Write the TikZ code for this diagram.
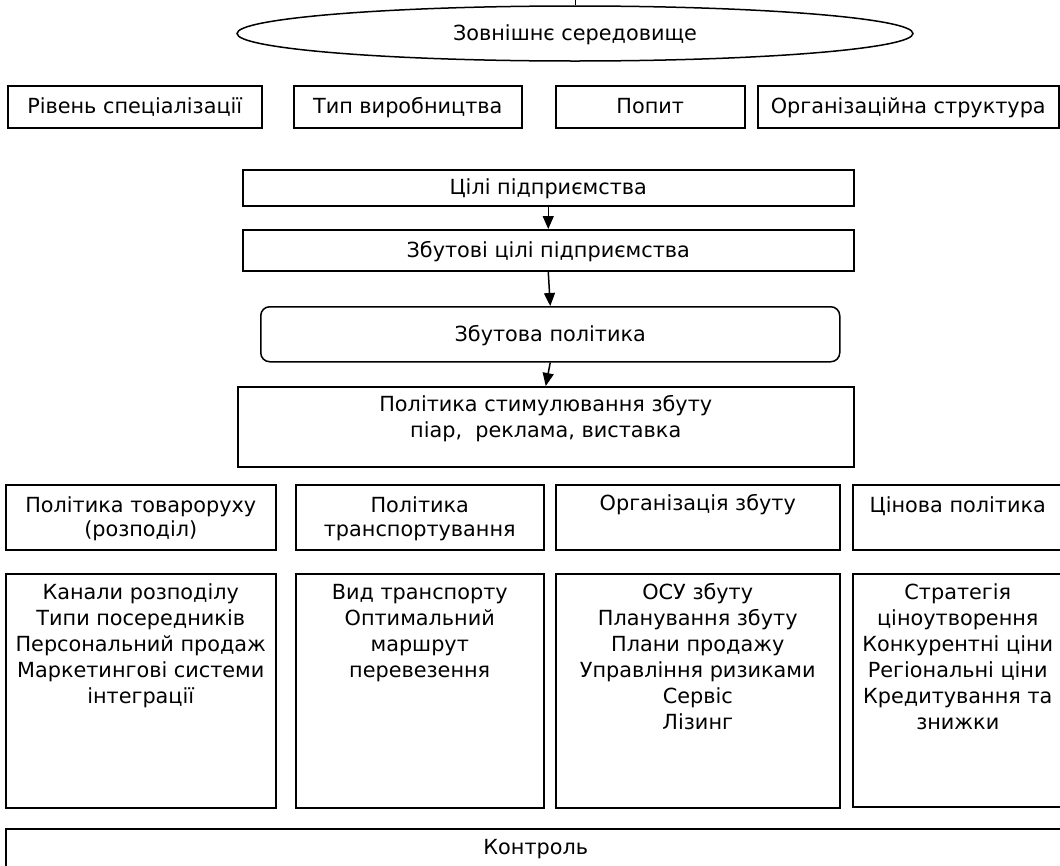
\documentclass[tikz,border=0pt]{standalone}
\usepackage{fontspec}
\setmainfont{DejaVu Sans}
\usetikzlibrary{shapes.geometric,arrows.meta,calc}
\newcommand\ftA{\fontsize{20.8}{26}\selectfont}
\newcommand\ftB{\fontsize{20.8}{24}\selectfont}
\begin{document}
\begin{tikzpicture}[x=1pt,y=-1pt,
  box/.style={draw, line width=1.5pt, rectangle, inner sep=0pt, anchor=north west, font=\ftA, text height=16pt, text depth=2pt},
  txt/.style={inner sep=0pt, align=center, anchor=north},
  arr/.style={line width=1.5pt, -{Triangle[length=13pt,width=11pt]}}]
\useasboundingbox (0,0) rectangle (1060,865);
\clip (0,0) rectangle (1060,865);
% external environment
\node[draw, ellipse, line width=1.5pt, minimum width=676, minimum height=55, inner sep=0pt, font=\ftA, text height=16pt, text depth=2pt] (env) at (575,33.5) {Зовнішнє середовище};
\draw[line width=1pt] (env.north) -- ++(0,-7);
% factors
\node[box, minimum width=254, minimum height=42] (r1) at (7,85) {Рівень спеціалізації};
\node[box, minimum width=228, minimum height=42] (r2) at (293,85) {Тип виробництва};
\node[box, minimum width=189, minimum height=42] (r3) at (555,85) {Попит};
\node[box, minimum width=301, minimum height=42] (r4) at (757,85) {Організаційна структура};
% central chain
\node[box, minimum width=611, minimum height=36] (c1) at (242,169) {Цілі підприємства};
\node[box, minimum width=611, minimum height=41] (c2) at (242,229) {Збутові цілі підприємства};
\node[box, rounded corners=9pt, minimum width=579, minimum height=55] (c3) at (260,306) {Збутова політика};
\node[box, minimum width=616, minimum height=80] (c4) at (237,386) {};
\node[txt, font=\ftA] (c4t) at ($(c4.north)+(0,6.8)$) {\strut Політика стимулювання збуту\\піар,\ \ реклама, виставка};
\draw[arr] (c1.south) -- (c2.north);
\draw[arr] (c2.south) -- (c3.north);
\draw[arr] (c3.south) -- (c4.north);
% policy headers
\node[box, minimum width=270, minimum height=65] (t1) at (5,484) {};
\node[box, minimum width=248, minimum height=65] (t2) at (295,484) {};
\node[box, minimum width=284, minimum height=65] (t3) at (555,484) {};
\node[box, minimum width=210, minimum height=65] (t4) at (852,484) {};
\node[txt, font=\ftB] (t1t) at ($(t1.north)+(0,11)$) {\strut Політика товароруху\\(розподіл)};
\node[txt, font=\ftB] (t2t) at ($(t2.north)+(0,11)$) {\strut Політика\\транспортування};
\node[txt, font=\ftB] (t3t) at ($(t3.north)+(0,9.5)$) {\strut Організація збуту};
\node[txt, font=\ftB] (t4t) at ($(t4.north)+(0,11)$) {\strut Цінова політика};
% policy contents
\node[box, minimum width=270, minimum height=234] (l1) at (5,573) {};
\node[box, minimum width=248, minimum height=234] (l2) at (295,573) {};
\node[box, minimum width=284, minimum height=234] (l3) at (555,573) {};
\node[box, minimum width=210, minimum height=233] (l4) at (852,573) {};
\node[txt, font=\ftA] (l1t) at ($(l1.north)+(0,7.8)$) {\strut Канали розподілу\\Типи посередників\\Персональний продаж\\Маркетингові системи\\інтеграції};
\node[txt, font=\ftA] (l2t) at ($(l2.north)+(0,7.8)$) {\strut Вид транспорту\\Оптимальний\\маршрут\\перевезення};
\node[txt, font=\ftA] (l3t) at ($(l3.north)+(0,7.8)$) {\strut ОСУ збуту\\Планування збуту\\Плани продажу\\Управління ризиками\\Сервіс\\Лізинг};
\node[txt, font=\ftA] (l4t) at ($(l4.north)+(0,7.8)$) {\strut Стратегія\\ціноутворення\\Конкурентні ціни\\Регіональні ціни\\Кредитування та\\знижки};
% control
\node[box, minimum width=1060, minimum height=60] (k) at (5,828) {};
\node[txt, font=\ftA] (kt) at ($(k.north)+(0,8.5)$) {\strut Контроль};
\end{tikzpicture}
\end{document}
